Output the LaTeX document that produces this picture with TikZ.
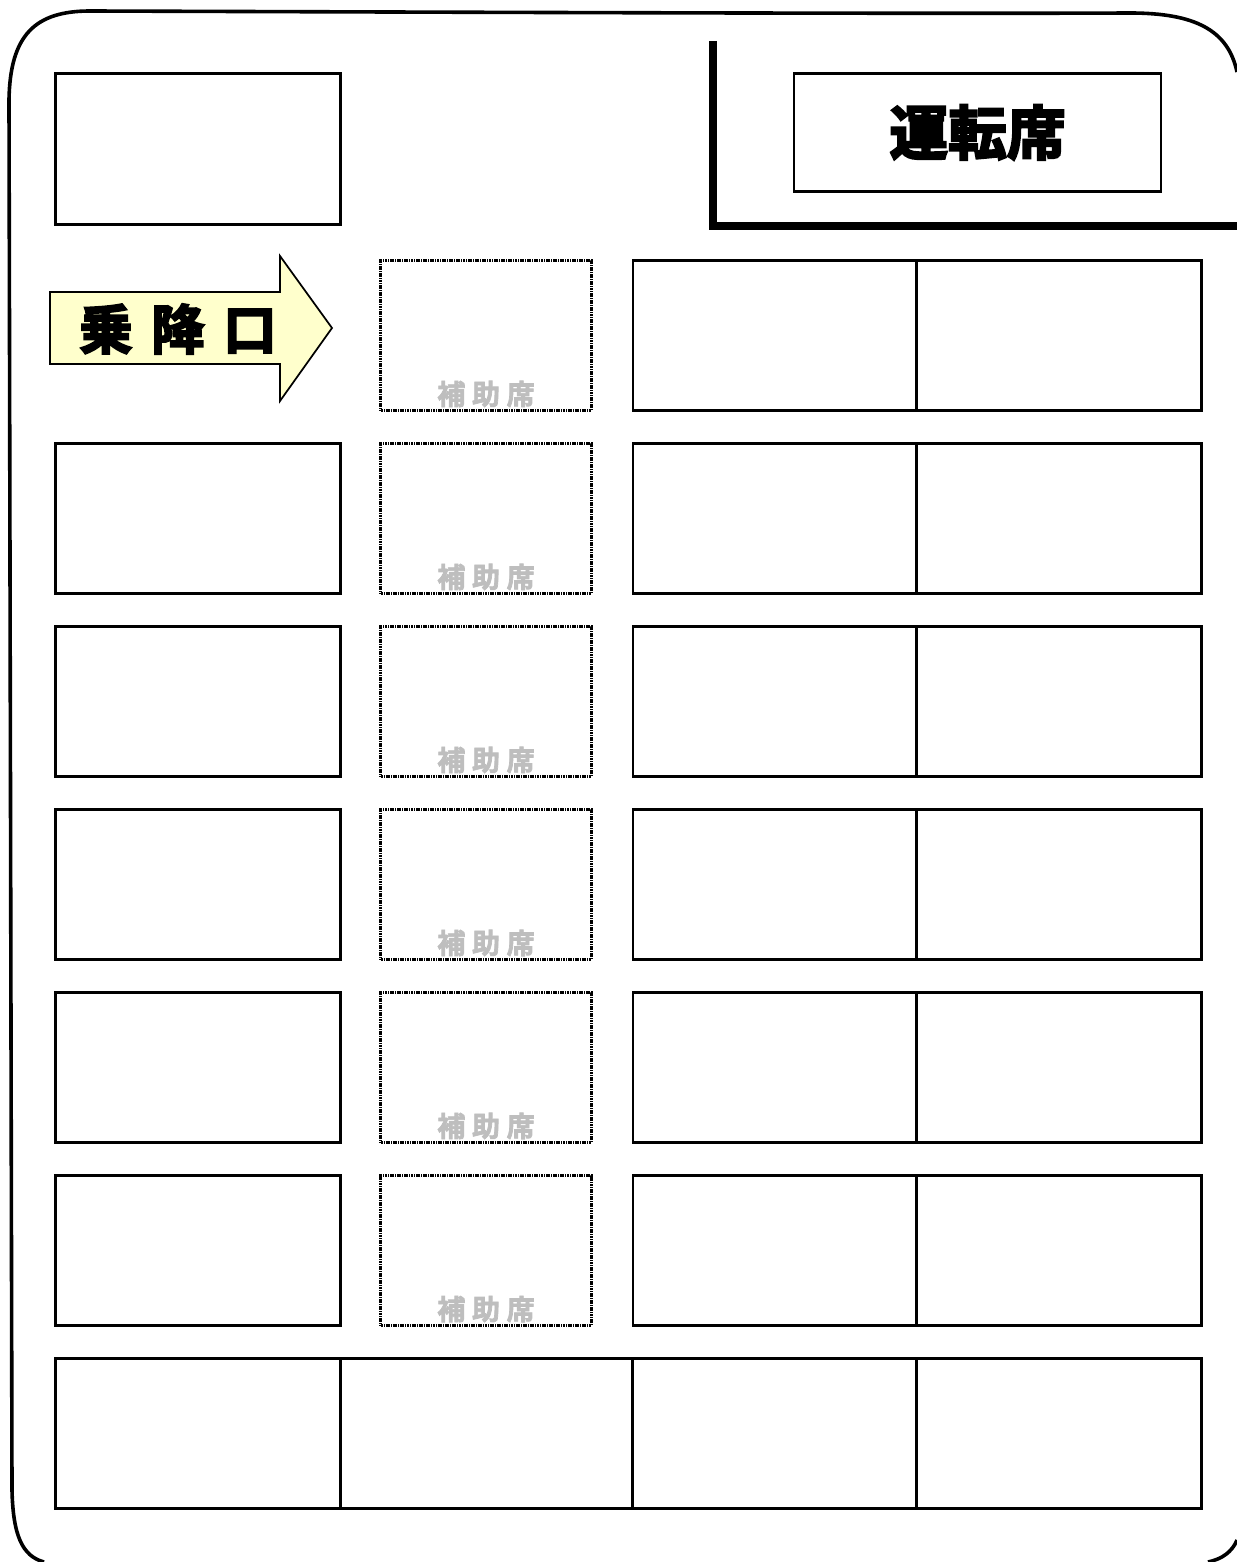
\documentclass[tikz,border=0pt]{standalone}
\usepackage{fontspec}
\usepackage{tikz}
\usetikzlibrary{positioning,calc}
\newfontfamily\jpfont[BoldFont={Noto Sans CJK JP Bold},BoldFeatures={FakeBold=2.5}]{Noto Sans CJK JP}
\newfontfamily\heavyfont[BoldFont={Noto Sans CJK JP Bold},BoldFeatures={FakeBold=4}]{Noto Sans CJK JP}
\definecolor{cDoor}{RGB}{255,255,204}
\definecolor{cHelp}{RGB}{190,190,190}
\tikzset{
  seatbox/.style={rectangle,draw=black,line width=2.2pt,fill=white,
                  inner sep=0pt,minimum width=213.75pt,minimum height=112.5pt},
  seatnarrow/.style={seatbox,minimum width=219pt},
  helpbox/.style={rectangle,draw=black,line width=2.2pt,dash pattern=on 0.9pt off 0.4pt,
                  fill=white,inner sep=0pt,minimum width=158.25pt,minimum height=112.5pt},
  helplabel/.style={font=\jpfont\bfseries\fontsize{21}{21}\selectfont,
                    text=cHelp,inner sep=0pt},
  framepen/.style={line width=2.7pt,draw=black},
  cabpen/.style={line width=5.3pt,draw=black,line cap=butt,line join=miter}
}
\begin{document}
\begin{tikzpicture}[x=0.75pt,y=-0.75pt]
  \useasboundingbox (0,0) rectangle (1237,1562);

  % outer frame
  \draw[framepen] (1237,72) .. controls (1228,30) and (1195,13) .. (1130,13)
     .. controls (900,14) and (400,12) .. (90,11)
     .. controls (35,11) and (10,35) .. (9,100)
     -- (12,1490) .. controls (13,1535) and (22,1556) .. (44,1562);
  \draw[framepen] (1237,1540) .. controls (1232,1552) and (1222,1559) .. (1208,1562);

  % driver cabin
  \coordinate (cabtop) at (713,41);
  \coordinate (cabend) at (1237,226);
  \draw[cabpen] (cabtop) |- (cabend);
  \node[seatbox,minimum width=275.25pt,minimum height=88.5pt] (cab) at (977.5,132.4) {};

  % door seat
  \node[seatbox,minimum height=113.25pt] (door) at (198,149.4) {};

  % arrow
  \draw[black,line width=1.3pt,fill=cDoor,line join=miter] (50,292) -- (280,292) -- (280,256)
     -- (332,328) -- (280,401) -- (280,364) -- (50,364) -- cycle;

  % rows
  \foreach \i/\y in {1/335.5,2/518.5,3/701.5,4/884.5,5/1067.5,6/1250.6}{
    \node[helpbox] (h\i) at (486,\y) {};
    \node[seatbox,minimum width=212.25pt] (c\i) at (774.5,\y) {};
    \node[seatbox] (d\i) at (1059,\y) {};
  }
  \foreach \i/\y in {2/518.5,3/701.5,4/884.5,5/1067.5,6/1250.6}
    \node[seatbox] (a\i) at (198,\y) {};

  % back row
  \node[seatbox] (r1) at (198,1433.5) {};
  \node[seatnarrow] (r2) at (486.5,1433.5) {};
  \node[seatbox,minimum width=212.25pt] (r3) at (774.5,1433.5) {};
  \node[seatbox] (r4) at (1059,1433.5) {};

  % texts last
  \node[font=\heavyfont\bfseries\fontsize{44}{44}\selectfont,inner sep=0pt]
      (cabtext) at (cab.center) {運転席};
  \node[font=\heavyfont\bfseries\fontsize{40}{40}\selectfont,inner sep=0pt]
      (entry) at (178,329) {\spaceskip=14pt\relax 乗 降 口};
  \foreach \i in {1,...,6}
    \node[helplabel] (l\i) at ($(h\i.south)+(0,-18)$) {\spaceskip=5pt\relax 補 助 席};
\end{tikzpicture}
\end{document}
